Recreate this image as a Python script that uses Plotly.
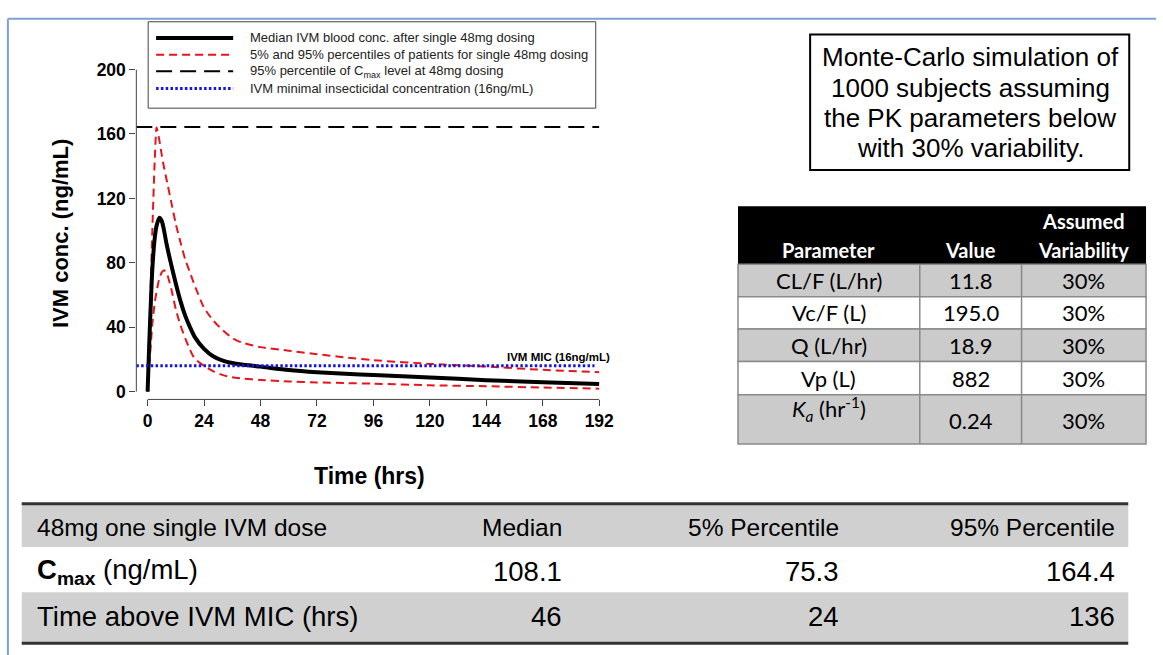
import plotly.graph_objects as go

W, H = 1163, 655

# ---------------- data ----------------
time_h = [0, 0.5, 1, 1.5, 2, 3, 3.8, 5, 6, 7, 8, 10, 12, 14, 16, 18, 20, 24, 28, 32, 36, 40, 48, 60, 72, 84, 96, 120, 144, 168, 192]
median_conc = [0, 22, 42, 60, 76, 95, 103, 108, 106, 100, 92, 79, 67, 56, 47, 40, 34, 26.5, 21.8, 19.2, 17.7, 16.8, 15.5, 13.4, 12.0, 11.0, 10.3, 8.8, 7.1, 5.8, 4.7]
p95_conc = [0, 26, 50, 75, 100, 143, 164, 156, 147, 139, 132, 118, 104, 92.6, 82, 74, 66, 52, 44, 38, 33.3, 30.5, 27.6, 25.4, 23.2, 21.2, 19.5, 17.2, 15.5, 13.5, 12.0]
p5_conc = [0, 12, 22, 32, 42, 55, 62, 70.5, 74, 75.3, 74, 64, 51, 41, 33, 26, 20.5, 16, 12.5, 10.2, 8.9, 8.1, 7.2, 6.3, 5.7, 5.3, 4.9, 3.9, 3.3, 2.5, 1.8]
cmax95_level = 164.4
mic_level = 16

x_ticks = [0, 24, 48, 72, 96, 120, 144, 168, 192]
y_ticks = [0, 40, 80, 120, 160, 200]
x_range = [-4.8, 192.2]
y_range = [-4.88, 200]

legend_labels = [
    "Median IVM blood conc. after single 48mg dosing",
    "5% and 95% percentiles of patients for single 48mg dosing",
    "95% percentile of C<sub>max</sub> level at 48mg dosing",
    "IVM minimal insecticidal concentration (16ng/mL)",
]

box_lines = ["Monte-Carlo simulation of", "1000 subjects assuming", "the PK parameters below", "with 30% variability."]

param_names = ["CL/F (L/hr)", "Vc/F (L)", "Q (L/hr)", "Vp (L)", "<i>K</i><sub><i>a</i></sub> (hr<sup>-1</sup>)"]
param_values = ["11.8", "195.0", "18.9", "882", "0.24"]
param_variability = ["30%", "30%", "30%", "30%", "30%"]

summary_header = ["48mg one single IVM dose", "Median", "5% Percentile", "95% Percentile"]
summary_rows = ["<b>C</b><sub><b>max</b></sub> (ng/mL)", "Time above IVM MIC (hrs)"]
cmax_values = ["108.1", "75.3", "164.4"]
time_above_mic = ["46", "24", "136"]

# ---------------- helpers ----------------
def px(x):
    return x / W

def py(y):
    return 1 - y / H

ARIAL = "Liberation Sans, Arial, sans-serif"
CALIBRI = "Lato, Carlito, Calibri, sans-serif"

ann = []

def text(x, y, s, font, xa="center", ya="middle", **kw):
    ann.append(dict(xref="paper", yref="paper", x=px(x), y=py(y), text=s, showarrow=False,
                    xanchor=xa, yanchor=ya, font=font, **kw))

fig = go.Figure()

red = "#e8141c"
red_dash = "8px,5px"
fig.add_trace(go.Scatter(x=time_h, y=p95_conc, mode="lines", line=dict(color=red, width=2, dash=red_dash, shape="spline", smoothing=0.6), hoverinfo="skip"))
fig.add_trace(go.Scatter(x=time_h, y=p5_conc, mode="lines", line=dict(color=red, width=2, dash=red_dash, shape="spline", smoothing=0.6), hoverinfo="skip"))
fig.add_trace(go.Scatter(x=time_h, y=median_conc, mode="lines", line=dict(color="black", width=4, shape="spline", smoothing=0.6), hoverinfo="skip"))
fig.add_trace(go.Scatter(x=[x_range[0], time_h[-1]], y=[cmax95_level, cmax95_level], mode="lines", line=dict(color="black", width=2, dash="16px,8px"), hoverinfo="skip"))
fig.add_trace(go.Scatter(x=[x_range[0], time_h[-1] - 2], y=[mic_level, mic_level], mode="lines", line=dict(color="#1414e6", width=3, dash="2.5px,2.3px"), hoverinfo="skip"))

shapes = []

# outer frame (blue)
shapes.append(dict(type="line", xref="paper", yref="paper", x0=px(8), x1=px(8), y0=py(9), y1=py(660), line=dict(color="#7f9fd6", width=2)))
shapes.append(dict(type="line", xref="paper", yref="paper", x0=px(8), x1=px(1170), y0=py(9), y1=py(9), line=dict(color="#7f9fd6", width=2)))

# R-style detached axis lines
shapes.append(dict(type="line", xref="paper", yref="y", x0=px(138), x1=px(138), y0=y_ticks[0], y1=y_ticks[-1], line=dict(color="#444", width=1)))
shapes.append(dict(type="line", xref="x", yref="paper", x0=x_ticks[0], x1=x_ticks[-1], y0=py(396.7), y1=py(396.7), line=dict(color="#444", width=1)))

# legend box
shapes.append(dict(type="rect", xref="paper", yref="paper", x0=px(150), x1=px(603), y0=py(12), y1=py(100), line=dict(color="#444", width=1), fillcolor="white"))
leg_y = [28.5, 45.5, 62.5, 80]
leg_styles = [dict(color="black", width=4), dict(color=red, width=2, dash=red_dash), dict(color="black", width=2, dash="16px,8px"), dict(color="#1414e6", width=3, dash="2.5px,2.3px")]
for yy, st, lab in zip(leg_y, leg_styles, legend_labels):
    shapes.append(dict(type="line", xref="paper", yref="paper", x0=px(158), x1=px(236), y0=py(yy), y1=py(yy), line=st))
    text(251, yy, lab, dict(family=ARIAL, size=13, color="#222"), xa="left")

# axis titles and MIC label
text(62, 228, "IVM conc. (ng/mL)", dict(family=ARIAL, size=22, color="black", weight="bold"), textangle=-90)
text(374, 475, "Time (hrs)", dict(family=ARIAL, size=23, color="black", weight="bold"))
text(619, 353, "IVM MIC (16ng/mL)", dict(family=ARIAL, size=11.5, color="black", weight="bold"), xa="right")

# Monte-Carlo text box
shapes.append(dict(type="rect", xref="paper", yref="paper", x0=px(820), x1=px(1143), y0=py(25), y1=py(163), line=dict(color="black", width=2), fillcolor="white"))
for i, t in enumerate(box_lines):
    text(982, 48 + 31 * i, t, dict(family=ARIAL, size=26, color="black"))

# parameter table
col_edges = [747, 931, 1034, 1160]
row_edges = [259, 292, 325, 358, 392, 442]
shapes.append(dict(type="rect", xref="paper", yref="paper", x0=px(col_edges[0]), x1=px(col_edges[-1]), y0=py(200), y1=py(row_edges[0]), line=dict(width=0), fillcolor="black"))
for i in range(len(param_names)):
    fill = "#cbcbcb" if i % 2 == 0 else "white"
    shapes.append(dict(type="rect", xref="paper", yref="paper", x0=px(col_edges[0]), x1=px(col_edges[-1]), y0=py(row_edges[i]), y1=py(row_edges[i + 1]), line=dict(color="#8a8a8a", width=1.5), fillcolor=fill))
for cx in col_edges[1:-1]:
    shapes.append(dict(type="line", xref="paper", yref="paper", x0=px(cx), x1=px(cx), y0=py(row_edges[0]), y1=py(row_edges[-1]), line=dict(color="#8a8a8a", width=1.5)))
centers = [(col_edges[j] + col_edges[j + 1]) / 2 for j in range(3)]
hdr_font = dict(family=CALIBRI, size=20, color="white", weight="bold")
text(centers[0], 244, "Parameter", hdr_font)
text(centers[1], 244, "Value", hdr_font)
text(centers[2], 215, "Assumed", hdr_font)
text(centers[2], 244, "Variability", hdr_font)
cell_font = dict(family=CALIBRI, size=22, color="black")
for i in range(len(param_names)):
    yc = (row_edges[i] + row_edges[i + 1]) / 2
    last = i == len(param_names) - 1
    yl = row_edges[i] + 14 if last else yc
    yv = row_edges[i] + 26 if last else yc
    text(centers[0], yl, param_names[i], cell_font)
    text(centers[1], yv, param_values[i], cell_font)
    text(centers[2], yv, param_variability[i], cell_font)

# summary table
t_left, t_right = 22, 1142
s_rows = [503, 547, 593, 644]
s_fill = ["#d0d0d0", "white", "#d0d0d0"]
for i in range(3):
    shapes.append(dict(type="rect", xref="paper", yref="paper", x0=px(t_left), x1=px(t_right), y0=py(s_rows[i]), y1=py(s_rows[i + 1]), line=dict(width=0), fillcolor=s_fill[i]))
shapes.append(dict(type="line", xref="paper", yref="paper", x0=px(t_left), x1=px(t_right), y0=py(503), y1=py(503), line=dict(color="#333", width=3)))
shapes.append(dict(type="line", xref="paper", yref="paper", x0=px(t_left), x1=px(t_right), y0=py(645), y1=py(645), line=dict(color="#333", width=3)))
col_right = [571, 851, 1131]
hfont = dict(family=ARIAL, size=24.5, color="black")
text(35, 527, summary_header[0], hfont, xa="left")
for j in range(3):
    text(col_right[j], 527, summary_header[j + 1], hfont, xa="right")
row_vals = [cmax_values, time_above_mic]
row_y = [572, 618]
rfont = dict(family=ARIAL, size=27.5, color="black")
for r in range(2):
    text(35, row_y[r], summary_rows[r], rfont, xa="left")
    for j in range(3):
        text(col_right[j], row_y[r], row_vals[r][j], rfont, xa="right")

tickfont = dict(family=ARIAL, size=17.5, color="black", weight="bold")
fig.update_layout(
    width=W, height=H,
    margin=dict(l=0, r=0, t=0, b=0),
    paper_bgcolor="white", plot_bgcolor="white",
    showlegend=False,
    xaxis=dict(domain=[px(138), px(607)], range=x_range, tickvals=x_ticks, ticks="outside", ticklen=6, tickcolor="#444",
               showgrid=False, zeroline=False, showline=False, tickfont=tickfont, fixedrange=True),
    yaxis=dict(domain=[py(396.7), py(60.7)], range=y_range, tickvals=y_ticks, ticks="outside", ticklen=6, tickcolor="#444",
               showgrid=False, zeroline=False, showline=False, tickfont=tickfont, fixedrange=True),
    shapes=shapes,
    annotations=ann,
)

fig.write_html("out.html", config={"displayModeBar": False})
